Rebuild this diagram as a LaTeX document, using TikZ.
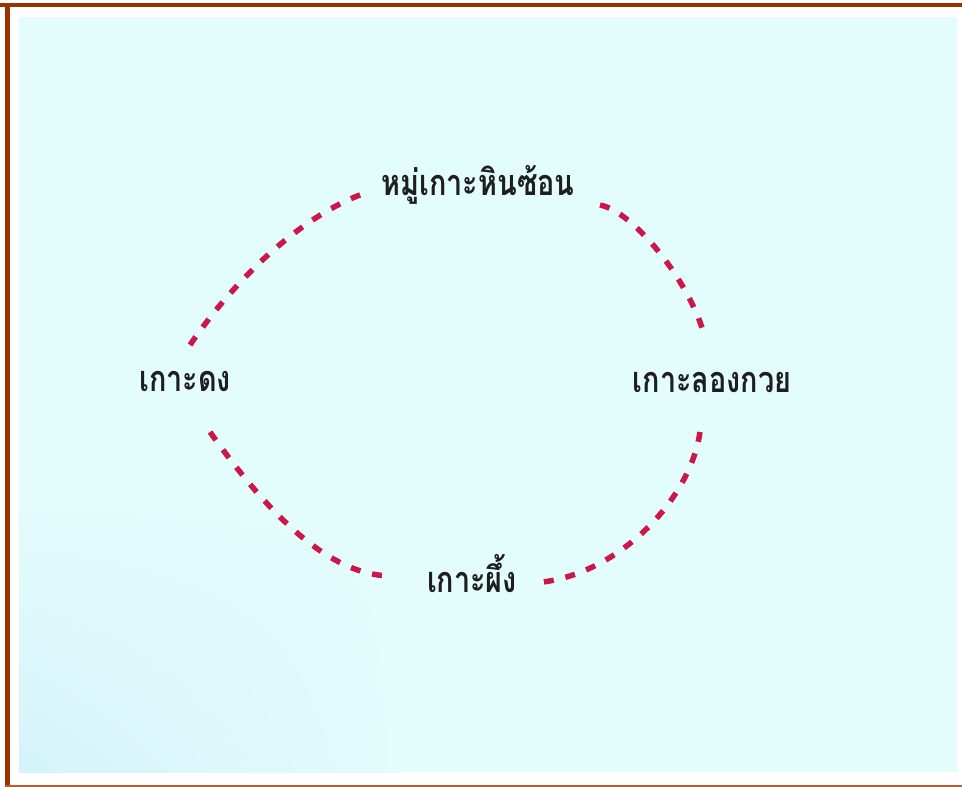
\documentclass[tikz,border=0pt]{standalone}
\usepackage{fontspec}
\usetikzlibrary{shadings}
\newfontfamily\thaifont[Script=Thai]{Loma}
\definecolor{frame}{RGB}{153,51,0}
\definecolor{framelow}{RGB}{190,90,50}
\definecolor{sea}{RGB}{227,252,252}
\definecolor{seablue}{RGB}{212,243,250}
\definecolor{route}{RGB}{205,22,75}
\definecolor{ink}{RGB}{30,30,30}
\tikzset{
  place/.style={font=\thaifont\bfseries\fontsize{36}{40}\selectfont, text=ink, inner sep=0pt, xscale=0.8},
  route/.style={draw=route, line width=5.5pt, dash pattern=on 10pt off 12pt}
}
\begin{document}
\begin{tikzpicture}[x=1pt,y=-1pt]
\useasboundingbox (0,0) rectangle (962,787);
\fill[white] (0,0) rectangle (962,787);
\fill[sea] (19,17) rectangle (957,772);
\shade[lower left=seablue, upper right=sea, lower right=sea, upper left=sea] (19,500) rectangle (400,772);
\fill[frame] (0,3) rectangle (962,7);
\fill[frame] (5,3) rectangle (10,787);
\fill[framelow] (5,785) rectangle (962,787);

\node[place] (hin) at (478,185) {หมู่เกาะหินซ้อน};
\node[place] (dong) at (185,381) {เกาะดง};
\node[place] (longkuai) at (712,382) {เกาะลองกวย};
\node[place] (phueng) at (472,574) {เกาะผึ้ง};

\coordinate (a1) at (190,345);
\coordinate (a2) at (368,192);
\coordinate (b1) at (600,205);
\coordinate (b2) at (705,338);
\coordinate (c1) at (210,432);
\coordinate (c2) at (392,576);
\coordinate (d1) at (700,432);
\coordinate (d2) at (543,582);

\draw[route] (a1) .. controls (232,283) and (300,215) .. (a2);
\draw[route] (b1) .. controls (635,212) and (692,285) .. (b2);
\draw[route] (c1) .. controls (262,505) and (325,576) .. (c2);
\draw[route] (d1) .. controls (690,500) and (620,572) .. (d2);
\end{tikzpicture}
\end{document}
